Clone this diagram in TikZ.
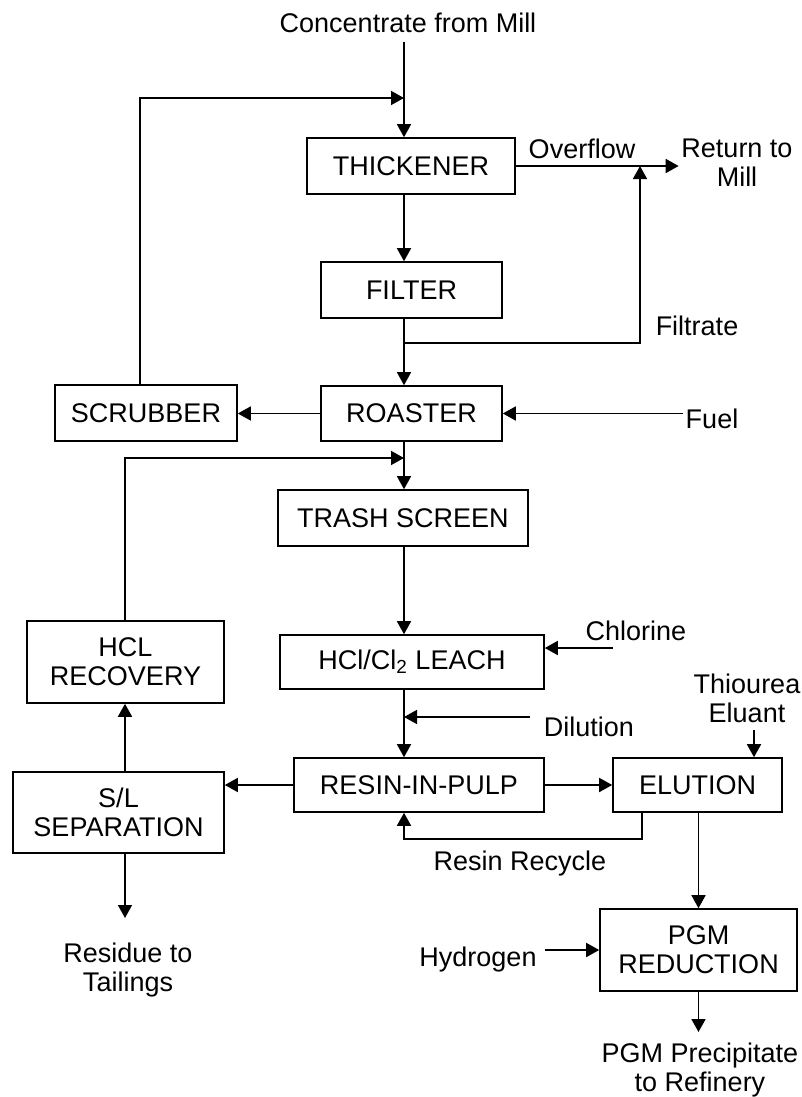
\documentclass[tikz,border=0pt]{standalone}
\usepackage{fontspec}
\setmainfont{Liberation Sans}
\usetikzlibrary{arrows.meta}

\begin{document}
\begin{tikzpicture}[x=0.5pt,y=-0.5pt,line width=0.8pt,
  font=\fontsize{13.5}{14.5}\selectfont,
  unit/.style={draw,inner sep=0pt,align=center},
  lbl/.style={inner sep=1pt,align=center},
  flow/.style={-{Triangle[length=6.5pt,width=7pt]}}]
\useasboundingbox (0,0) rectangle (802,1097);
% process units
\node[unit,minimum width=104pt,minimum height=28pt] (thick) at (411,166) {THICKENER};
\node[unit,minimum width=90.5pt,minimum height=28pt] (filter) at (411.5,290) {FILTER};
\node[unit,minimum width=90.5pt,minimum height=27.5pt] (roast) at (411.5,413.5) {ROASTER};
\node[unit,minimum width=91pt,minimum height=28pt] (scrub) at (146,413) {SCRUBBER};
\node[unit,minimum width=125pt,minimum height=28pt] (trash) at (403,518) {TRASH SCREEN};
\node[unit,minimum width=132pt,minimum height=27pt] (leach) at (412,662) {HCl/Cl\textsubscript{2} LEACH};
\node[unit,minimum width=98.5pt,minimum height=41pt] (hclrec) at (125.5,662) {HCL\\RECOVERY};
\node[unit,minimum width=125pt,minimum height=27pt] (rip) at (419,785) {RESIN-IN-PULP};
\node[unit,minimum width=105.5pt,minimum height=40.5pt] (sl) at (118.5,812.5) {S/L\\SEPARATION};
\node[unit,minimum width=84.5pt,minimum height=27pt] (elution) at (697.5,785) {ELUTION};
\node[unit,minimum width=98.5pt,minimum height=41pt] (pgm) at (698.5,950) {PGM\\REDUCTION};
% stream labels
\node[lbl] (conc) at (408,23) {Concentrate from Mill};
\node[lbl] (overflow) at (582,149) {Overflow};
\node[lbl] (rtm) at (737,163) {Return to\\Mill};
\node[lbl] (filtrate) at (697,326) {Filtrate};
\node[lbl] (fuel) at (712,419) {Fuel};
\node[lbl] (chlorine) at (636,631) {Chlorine};
\node[lbl] (dilution) at (589,727) {Dilution};
\node[lbl] (thio) at (747,698) {Thiourea\\Eluant};
\node[lbl] (resrec) at (520,864) {Resin Recycle};
\node[lbl] (hydrogen) at (478,960) {Hydrogen};
\node[lbl] (residue) at (128,970) {Residue to\\Tailings};
\node[lbl] (precip) at (700,1070) {PGM Precipitate\\to Refinery};
% free ends
\coordinate (top) at (404,42);
\coordinate (ret1) at (140,98);
\coordinate (fjn) at (404,343);
\coordinate (fret) at (640,343);
\coordinate (fuelin) at (683,413.5);
\coordinate (ret2) at (125,458);
\coordinate (clin) at (613,648);
\coordinate (dil) at (530,717);
\coordinate (resid) at (125,918);
\coordinate (thin) at (754,730);
\coordinate (rr) at (642,839);
\coordinate (h2) at (545,950);
\coordinate (pout) at (698.5,1032);
% streams
\draw[flow] (top) -- (top |- thick.north);
\draw[flow] (scrub.north -| ret1) -- (ret1) -- (ret1 -| top);
\draw[flow] (thick.east) -- (thick.east -| rtm.west);
\draw[flow] (thick.south -| top) -- (filter.north -| top);
\draw[flow] (filter.south -| top) -- (roast.north -| top);
\draw[flow] (fjn) -- (fret) -- (fret |- thick.east);
\draw[flow] (fuelin) -- (roast.east);
\draw[flow] (roast.west) -- (scrub.east |- roast.west);
\draw[flow] (roast.south -| top) -- (trash.north -| top);
\draw[flow] (hclrec.north -| ret2) -- (ret2) -- (ret2 -| top);
\draw[flow] (trash.south -| top) -- (leach.north -| top);
\draw[flow] (clin) -- (clin -| leach.east);
\draw[flow] (leach.south -| top) -- (rip.north -| top);
\draw[flow] (dil) -- (dil -| top);
\draw[flow] (rip.west) -- (rip.west -| sl.east);
\draw[flow] (sl.north -| ret2) -- (hclrec.south -| ret2);
\draw[flow] (sl.south -| ret2) -- (resid);
\draw[flow] (rip.east) -- (elution.west);
\draw[flow] (thin) -- (thin |- elution.north);
\draw[flow] (elution.south -| rr) -- (rr) -- (rr -| top) -- (rip.south -| top);
\draw[flow] (elution.south -| pgm.north) -- (pgm.north);
\draw[flow] (h2) -- (pgm.west);
\draw[flow] (pgm.south) -- (pout);
\end{tikzpicture}
\end{document}
